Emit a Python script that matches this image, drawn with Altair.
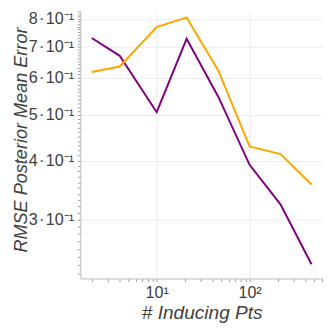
import altair as alt
import pandas as pd

inducing_pts = [2, 4, 10, 21, 46, 100, 215, 464]
purple_rmse = [0.729, 0.668, 0.507, 0.726, 0.547, 0.392, 0.323, 0.241]
orange_rmse = [0.617, 0.634, 0.769, 0.806, 0.622, 0.429, 0.413, 0.356]
series_names = ["purple", "orange"]
series_colors = ["#800080", "#FFA500"]

sp = "\u200a"
y_major = [0.3, 0.4, 0.5, 0.6, 0.7, 0.8]
y_labels = [f"{d}{sp}·{sp}10⁻¹" for d in ["3", "4", "5", "6", "7", "8"]]
x_major = [10, 100]
x_labels = ["10¹", "10²"]

y_ticks = [round(k * 0.01, 2) for k in range(23, 84)]
x_ticks = [m * d for d in (1, 10, 100) for m in range(1, 10)]
x_ticks = [v for v in x_ticks if 1.5 <= v <= 617]

rows = []
for name, vals in zip(series_names, [purple_rmse, orange_rmse]):
    for xv, yv in zip(inducing_pts, vals):
        rows.append({"x": xv, "y": yv, "series": name})
df = pd.DataFrame(rows)

def label_expr(majors, labels):
    parts = " : ".join(
        f"datum.value == {m} ? '{l}'" for m, l in zip(majors, labels)
    )
    return parts + " : ''"

def major_test(majors):
    return "indexof([" + ",".join(str(m) for m in majors) + "], datum.value) >= 0"

font = "Liberation Sans"
txt = "#404040"

common = dict(
    titleFontStyle="italic",
    titleFontWeight="normal",
    titleFont=font,
    titleColor=txt,
    labelFont=font,
    labelFontSize=16.5,
    labelColor=txt,
    labelOverlap=False,
    tickSize=3,
    tickColor="#999999",
    domainColor="#bbbbbb",
    gridColor="#ececec",
)

x_axis = alt.Axis(
    values=x_ticks,
    labelExpr=label_expr(x_major, x_labels),
    title="# Inducing Pts",
    titleFontSize=19.5,
    titlePadding=3,
    labelPadding=3,
    gridOpacity={"condition": {"test": major_test(x_major), "value": 1}, "value": 0},
    **common,
)

y_axis = alt.Axis(
    values=y_ticks,
    labelExpr=label_expr(y_major, y_labels),
    title="RMSE Posterior Mean Error",
    titleFontSize=18.5,
    titleX=-55,
    titleY=131,
    titleAngle=270,
    titleAlign="center",
    titleBaseline="alphabetic",
    labelPadding=4,
    gridOpacity={"condition": {"test": major_test(y_major), "value": 1}, "value": 0},
    **common,
)

chart = (
    alt.Chart(df)
    .mark_line(strokeWidth=2)
    .encode(
        x=alt.X("x:Q", scale=alt.Scale(type="log", domain=[1.51, 617], nice=False), axis=x_axis),
        y=alt.Y("y:Q", scale=alt.Scale(type="log", domain=[0.2248, 0.830], nice=False), axis=y_axis),
        color=alt.Color(
            "series:N",
            scale=alt.Scale(domain=series_names, range=series_colors),
            legend=None,
        ),
    )
    .properties(
        width=248,
        height=273,
        autosize="none",
        padding={"left": 74, "top": 0, "right": 0, "bottom": 42},
    )
    .configure_view(stroke=None)
)

chart.save("out.html", embed_options={"renderer": "svg", "actions": False})
